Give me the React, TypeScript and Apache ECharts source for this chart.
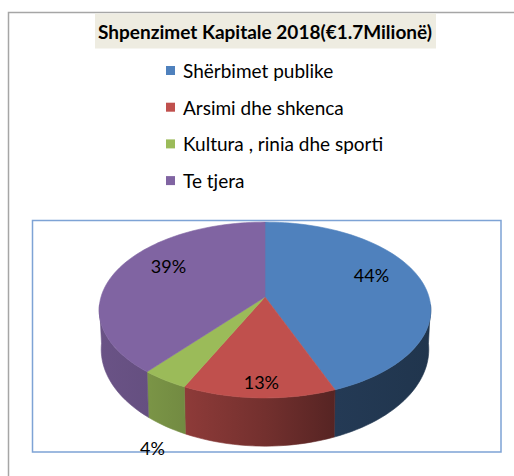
import React, { useEffect, useRef } from "react";
import * as echarts from "echarts";

const titleText = "Shpenzimet Kapitale 2018(€1.7Milionë)";
const categories = [
  "Shërbimet publike",
  "Arsimi dhe shkenca",
  "Kultura , rinia dhe sporti",
  "Te tjera",
];
const values = [44, 13, 4, 39];
const colors = ["#4F81BD", "#C0504D", "#9BBB59", "#8064A2"];

// 3D pie projection (top face and bottom face of the cylinder)
const CX = 265;
const TOP = { y0: 297, k: 164, a: 86, b: 0.148 };
const BOT = { y0: 335, k: 162, a: 94.7, b: 0.148 };
const VIS0 = (95 * Math.PI) / 180;
const VIS1 = (265 * Math.PI) / 180;
const SH_X = [99, 150, 190, 265, 335, 431];
const SH_F = [0.83, 0.79, 0.73, 0.6, 0.45, 0.41];
const FONT = "Lato, 'Noto Sans', sans-serif";

type P = { y0: number; k: number; a: number; b: number };

function proj(p: P, theta: number, r: number): number[] {
  const u = r * Math.sin(theta);
  const v = -r * Math.cos(theta);
  const d = 1 - p.b * v;
  return [CX + (p.k * u) / d, p.y0 + (p.a * v) / d];
}

function arc(p: P, t0: number, t1: number): number[][] {
  const n = Math.max(4, Math.ceil(((t1 - t0) * 180) / Math.PI / 2));
  const pts: number[][] = [];
  for (let j = 0; j <= n; j++) pts.push(proj(p, t0 + ((t1 - t0) * j) / n, 1));
  return pts;
}

function shade(hex: string, f: number): string {
  const n = parseInt(hex.slice(1), 16);
  const r = Math.round(((n >> 16) & 255) * f);
  const g = Math.round(((n >> 8) & 255) * f);
  const b = Math.round((n & 255) * f);
  return `rgb(${r},${g},${b})`;
}

export default function App() {
  const ref = useRef<HTMLDivElement>(null);
  useEffect(() => {
    document.body.style.margin = "0";
    document.body.style.overflow = "hidden";
    const chart = echarts.init(ref.current!, null, { renderer: "svg" });
    const total = values.reduce((s, v) => s + v, 0);

    const series = categories.map((name, i) => ({
      type: "custom",
      name,
      coordinateSystem: "none",
      itemStyle: { color: colors[i] },
      data: [values[i]],
      renderItem: (_params: any, api: any) => {
        const val = api.value(0);
        const before = values.slice(0, i).reduce((s, v) => s + v, 0);
        const t0 = (before / total) * Math.PI * 2;
        const t1 = t0 + (val / total) * Math.PI * 2;
        const children: any[] = [];
        const s0 = Math.max(t0, VIS0);
        const s1 = Math.min(t1, VIS1);
        if (s1 > s0) {
          const grad = new echarts.graphic.LinearGradient(
            SH_X[0], 0, SH_X[SH_X.length - 1], 0,
            SH_X.map((x, j) => ({
              offset: (x - SH_X[0]) / (SH_X[SH_X.length - 1] - SH_X[0]),
              color: shade(colors[i], SH_F[j]),
            })),
            true
          );
          const pts = arc(TOP, s0, s1).concat(arc(BOT, s0, s1).reverse());
          children.push({
            type: "polygon",
            z2: 0,
            shape: { points: pts },
            style: { fill: grad, stroke: grad, lineWidth: 0.6 },
          });
        }
        const topPts = [[CX, TOP.y0]].concat(arc(TOP, t0, t1));
        children.push({
          type: "polygon",
          z2: 10,
          shape: { points: topPts },
          style: { fill: colors[i], stroke: colors[i], lineWidth: 0.6 },
        });
        const mid = (t0 + t1) / 2;
        let lp: number[];
        if (val / total < 0.05) {
          lp = proj(BOT, mid, 1.15);
          lp = [lp[0] + 4, lp[1] + 6];
        } else {
          const front = Math.max(0, -Math.cos(mid));
          lp = proj(TOP, mid, 0.66 + 0.28 * front);
          lp = [lp[0] + 2, lp[1] - 12 + 3 * front];
        }
        children.push({
          type: "text",
          z2: 20,
          x: lp[0],
          y: lp[1],
          style: {
            text: `${val}%`,
            fontFamily: FONT,
            fontSize: 18,
            fill: "#000",
            align: "center",
            verticalAlign: "middle",
          },
        });
        return { type: "group", children };
      },
    }));

    chart.setOption({
      animation: false,
      backgroundColor: "#ffffff",
      legend: {
        orient: "vertical",
        left: 166,
        top: 61,
        padding: 0,
        icon: "rect",
        itemWidth: 9,
        itemHeight: 9,
        itemGap: 17.7,
        data: categories,
        textStyle: {
          fontFamily: FONT,
          fontSize: 19,
          lineHeight: 19,
          color: "#000",
          padding: [0, 0, 0, 3],
        },
      },
      graphic: [
        {
          type: "rect",
          z: -10,
          shape: { x: 8.5, y: 12.5, width: 600, height: 600 },
          style: { fill: "none", stroke: "#A6A6A6", lineWidth: 1.5 },
        },
        {
          type: "rect",
          z: -5,
          shape: { x: 95, y: 13.5, width: 341, height: 35 },
          style: { fill: "#EEECE1" },
        },
        {
          type: "text",
          x: 265,
          y: 31,
          style: {
            text: titleText,
            fontFamily: FONT,
            fontSize: 19,
            fontWeight: "bold",
            fill: "#000",
            align: "center",
            verticalAlign: "middle",
          },
        },
        {
          type: "rect",
          z: -5,
          shape: { x: 32.5, y: 220.5, width: 468.5, height: 231.5 },
          style: { fill: "none", stroke: "#7EA3D5", lineWidth: 1.5 },
        },
      ],
      series,
    });
    return () => chart.dispose();
  }, []);
  return <div ref={ref} style={{ width: 514, height: 476 }} />;
}
